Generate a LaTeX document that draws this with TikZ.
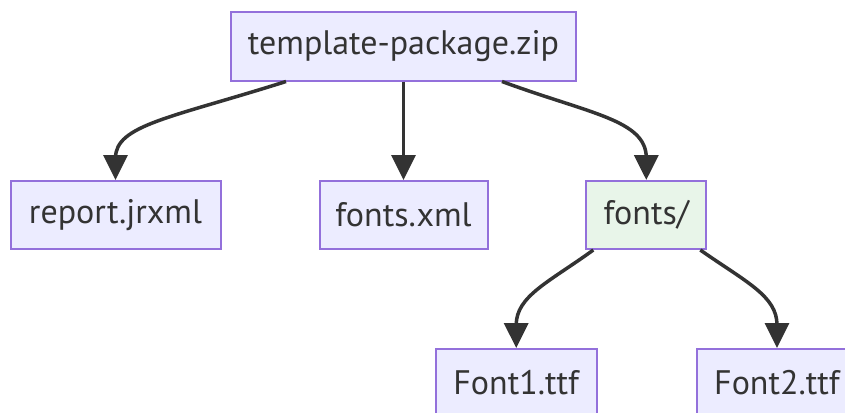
\documentclass[tikz,border=0pt]{standalone}
\usepackage{fontspec}
\setmainfont{PT Sans}
\usetikzlibrary{arrows.meta,calc}
\definecolor{boxfill}{HTML}{ECECFF}
\definecolor{boxline}{HTML}{9370DB}
\definecolor{dirfill}{HTML}{E8F5E9}
\definecolor{ink}{HTML}{333333}
\tikzset{
  file/.style={draw=boxline, line width=2pt, fill=boxfill, text=ink,
    minimum height=68pt, inner sep=0pt, font=\fontsize{34}{40}\selectfont},
  folder/.style={file, fill=dirfill},
  link/.style={draw=ink, line width=3.5pt,
    -{Triangle[length=25pt,width=24pt]}},
}
\begin{document}
\begin{tikzpicture}[x=1pt,y=-1pt]
  \useasboundingbox (0,0) rectangle (845,412);
  \clip (0,0) rectangle (845,412);
  \node[file, minimum width=345pt] (zip) at (403.5,46.5) {template-package.zip};
  \node[file, minimum width=210pt] (report) at (115.5,215) {report.jrxml};
  \node[file, minimum width=168pt] (fxml) at (403.5,215) {fonts.xml};
  \node[folder, minimum width=120pt] (fdir) at (646.3,215) {fonts/};
  \node[file, minimum width=161pt] (f1) at (516.2,383) {Font1.ttf};
  \node[file, minimum width=161pt] (f2) at (777,383) {Font2.ttf};

  % edges out of the archive
  \draw[link] ([xshift=-117.5pt]zip.south)
    .. controls ([xshift=55pt,yshift=62pt]report.north)
    and ([yshift=55pt]report.north) .. ([yshift=22pt]report.north)
    -- (report.north);
  \draw[link] (zip.south) -- (fxml.north);
  \draw[link] ([xshift=98.5pt]zip.south)
    .. controls ([xshift=-56pt,yshift=66pt]fdir.north)
    and ([yshift=60pt]fdir.north) .. ([yshift=22pt]fdir.north)
    -- (fdir.north);

  % edges out of the fonts folder
  \draw[link] ([xshift=-53pt]fdir.south)
    .. controls ([xshift=33pt,yshift=66pt]f1.north)
    and ([yshift=52pt]f1.north) .. ([yshift=23pt]f1.north)
    -- (f1.north);
  \draw[link] ([xshift=54pt]fdir.south)
    .. controls ([xshift=-31pt,yshift=66pt]f2.north)
    and ([yshift=52pt]f2.north) .. ([yshift=23pt]f2.north)
    -- (f2.north);
\end{tikzpicture}
\end{document}
